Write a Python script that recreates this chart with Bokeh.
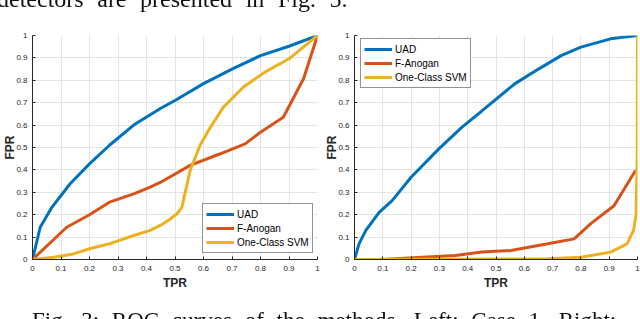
from bokeh.plotting import figure
from bokeh.models import Range1d, FixedTicker, Legend, LegendItem, Div
from bokeh.layouts import row, column
from bokeh.embed import file_html
from bokeh.resources import INLINE

# ---- data ----
tick_values = [0, 0.1, 0.2, 0.3, 0.4, 0.5, 0.6, 0.7, 0.8, 0.9, 1]
tick_labels = ["0", "0.1", "0.2", "0.3", "0.4", "0.5", "0.6", "0.7", "0.8", "0.9", "1"]
series_names = ["UAD", "F-Anogan", "One-Class SVM"]

# Left plot (Case 1)
uad1_x = [0, 0.027, 0.068, 0.132, 0.20, 0.27, 0.355, 0.45, 0.5, 0.6, 0.7, 0.8, 0.9, 1.0]
uad1_y = [0, 0.144, 0.233, 0.338, 0.427, 0.51, 0.60, 0.675, 0.71, 0.785, 0.85, 0.91, 0.952, 1.0]
ano1_x = [0, 0.12, 0.20, 0.27, 0.355, 0.413, 0.45, 0.553, 0.659, 0.746, 0.80, 0.88, 0.951, 1.0]
ano1_y = [0, 0.144, 0.20, 0.256, 0.293, 0.323, 0.345, 0.42, 0.472, 0.516, 0.568, 0.635, 0.807, 1.0]
svm1_x = [0, 0.074, 0.144, 0.20, 0.27, 0.355, 0.413, 0.448, 0.483, 0.507, 0.524, 0.553, 0.588, 0.624, 0.67, 0.74, 0.82, 0.90, 1.0]
svm1_y = [0, 0.01, 0.025, 0.048, 0.07, 0.107, 0.13, 0.152, 0.18, 0.204, 0.233, 0.397, 0.51, 0.59, 0.68, 0.77, 0.84, 0.896, 1.0]

# Right plot (Case 2)
uad2_x = [0, 0.016, 0.04, 0.087, 0.133, 0.20, 0.298, 0.379, 0.449, 0.566, 0.65, 0.73, 0.80, 0.905, 1.0]
uad2_y = [0, 0.07, 0.13, 0.21, 0.263, 0.367, 0.494, 0.59, 0.662, 0.784, 0.85, 0.91, 0.948, 0.985, 1.0]
ano2_x = [0, 0.098, 0.24, 0.356, 0.449, 0.553, 0.683, 0.776, 0.835, 0.917, 0.993]
ano2_y = [0, 0, 0.01, 0.018, 0.033, 0.04, 0.07, 0.092, 0.16, 0.24, 0.397]
svm2_x = [0, 0.68, 0.80, 0.905, 0.963, 0.986, 0.995, 0.999, 1.0]
svm2_y = [0, 0.003, 0.01, 0.033, 0.07, 0.13, 0.2, 0.45, 1.0]

top_text = "detectors are presented in Fig. 5."
caption_text = "Fig. 3: ROC curves of the methods. Left: Case 1. Right:"

colors = ["#0072BD", "#D95319", "#EDB120"]
AX = "#262626"


def make_fig(width, border_left, border_right, xs, ys, legend_loc):
    p = figure(width=width, height=300, x_range=Range1d(0, 1), y_range=Range1d(0, 1),
               output_backend="svg", toolbar_location=None,
               min_border_left=border_left, min_border_right=border_right,
               min_border_top=35, min_border_bottom=41)
    p.outline_line_color = None
    p.background_fill_color = "white"
    p.border_fill_color = "white"
    overrides = {v: s for v, s in zip(tick_values, tick_labels)}
    for ax in (p.xaxis[0], p.yaxis[0]):
        ax.ticker = FixedTicker(ticks=tick_values)
        ax.major_label_overrides = overrides
        ax.axis_line_color = AX
        ax.axis_line_width = 1
        ax.major_tick_in = 3
        ax.major_tick_out = 0
        ax.major_tick_line_color = AX
        ax.minor_tick_line_color = None
        ax.major_label_text_font = "Liberation Sans"
        ax.major_label_text_font_size = "8px"
        ax.major_label_text_color = AX
        ax.axis_label_text_font = "Liberation Sans"
        ax.axis_label_text_font_style = "bold"
        ax.axis_label_text_font_size = "12px"
        ax.axis_label_text_color = AX
    p.xaxis.axis_label = "TPR"
    p.yaxis.axis_label = "FPR"
    p.xaxis.major_label_standoff = 6
    p.xaxis.axis_label_standoff = 2
    p.yaxis.major_label_standoff = 5
    p.yaxis.axis_label_standoff = -4
    p.grid.grid_line_color = "#e4e4e4"
    p.grid.grid_line_width = 1

    items = []
    for name, x, y, c in zip(series_names, xs, ys, colors):
        r = p.line(x, y, line_color=c, line_width=3)
        items.append(LegendItem(label=name, renderers=[r]))
    legend = Legend(items=items, location=legend_loc,
                    border_line_color=AX, border_line_width=1,
                    background_fill_color="white", background_fill_alpha=1,
                    padding=3, spacing=0, margin=0,
                    glyph_width=28, glyph_height=14, label_height=14,
                    label_standoff=3, label_text_font="Liberation Sans",
                    label_text_font_size="10px", label_text_color="black")
    p.add_layout(legend)
    return p


p1 = make_fig(322, 32, 5, [uad1_x, ano1_x, svm1_x], [uad1_y, ano1_y, svm1_y], (170, 6))
p2 = make_fig(318, 30, 3, [uad2_x, ano2_x, svm2_x], [uad2_y, ano2_y, svm2_y], (6, 171))

# Surrounding paper text, fixed to the window so that it is cut at the top and bottom
text_html = (
    '<div style="position: fixed; left: -3px; top: -13px; font-family: \'Liberation Serif\'; '
    'font-size: 24px; line-height: 24px; word-spacing: 7.6px; white-space: nowrap; color: #111;">'
    + top_text + '</div>'
    '<div style="position: fixed; left: 32px; top: 308.5px; font-family: \'Liberation Serif\'; '
    'font-size: 23px; line-height: 23px; word-spacing: 7px; white-space: nowrap; color: #111;">'
    + caption_text + '</div>'
)
text_div = Div(text=text_html, width=640, height=4)

layout = column(row(p1, p2), text_div)

open("out.html", "w").write(file_html(layout, INLINE))
